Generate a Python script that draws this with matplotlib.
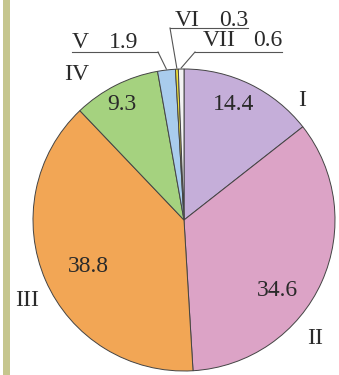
import matplotlib
matplotlib.use("Agg")
import matplotlib.pyplot as plt
import numpy as np

categories = ["I", "II", "III", "IV", "V", "VI", "VII"]
values = [14.4, 34.6, 38.8, 9.3, 1.9, 0.3, 0.6]
colors = ["#c5aed9", "#dca3c6", "#f2a655", "#a5d27f", "#a9cced", "#efe03a", "#f3f3f3"]

W, H = 339, 375
fig = plt.figure(figsize=(W / 100, H / 100), dpi=100)
ax = fig.add_axes([0, 0, 1, 1])

cx, cy, R = 184, 375 - 220, 151

wedges, _ = ax.pie(values, colors=colors, startangle=90, counterclock=False,
                   center=(cx, cy), radius=R, frame=True,
                   wedgeprops=dict(edgecolor="#444444", linewidth=0.7))
ax.set_xlim(0, W)
ax.set_ylim(0, H)
ax.set_aspect("equal")
ax.axis("off")

# left decorative bar
ax.add_patch(plt.Rectangle((3, 0), 7, H, color="#c6c68e", lw=0))

font = dict(family="Liberation Serif", color="#2a2a2a")
fs = 17

def px(x, y):
    return x, H - y

inside_pos = {"I": (234, 104), "II": (277, 291), "III": (88, 266), "IV": (122, 105)}
outside_pos = {"I": (302, 100), "II": (315, 338), "III": (27, 301), "IV": (77, 75)}
for cat, val in zip(categories, values):
    if cat in inside_pos:
        x, y = px(*inside_pos[cat])
        ax.text(x, y, f"{val}", ha="center", va="center", fontsize=fs, **font)
        x, y = px(*outside_pos[cat])
        ax.text(x, y, cat, ha="center", va="center", fontsize=fs, **font)

cum = np.cumsum([0] + values)
total = sum(values)
def edge_point(i, frac=0.5, r=R):
    a = 90 - 360 * (cum[i] + values[i] * frac) / total
    return cx + r * np.cos(np.radians(a)), cy + r * np.sin(np.radians(a))

# small slices: label x, value right edge x, text y, underline, leader anchor end
small = {
    "V": dict(lab_x=72, val_x=138, ty=42, line=((72, 52), (158, 52)), anchor=1),
    "VI": dict(lab_x=175, val_x=248, ty=20, line=((170, 28), (248, 28)), anchor=0),
    "VII": dict(lab_x=203, val_x=282, ty=41, line=((195, 52), (282, 52)), anchor=0),
}
lc = "#555555"
for i, cat in enumerate(categories):
    if cat not in small:
        continue
    s = small[cat]
    ax.text(s["lab_x"], H - s["ty"], cat, ha="left", va="center", fontsize=fs, **font)
    ax.text(s["val_x"], H - s["ty"], f"{values[i]}", ha="right", va="center", fontsize=fs, **font)
    (x0, y0), (x1, y1) = s["line"]
    ax.plot([x0, x1], [H - y0, H - y1], color=lc, lw=0.8)
    ax_, ay_ = s["line"][s["anchor"]]
    ex, ey = edge_point(i, 0.5, R + 1)
    ax.plot([ax_, ex], [H - ay_, ey], color=lc, lw=0.8)

fig.savefig("out.png", dpi=100)
